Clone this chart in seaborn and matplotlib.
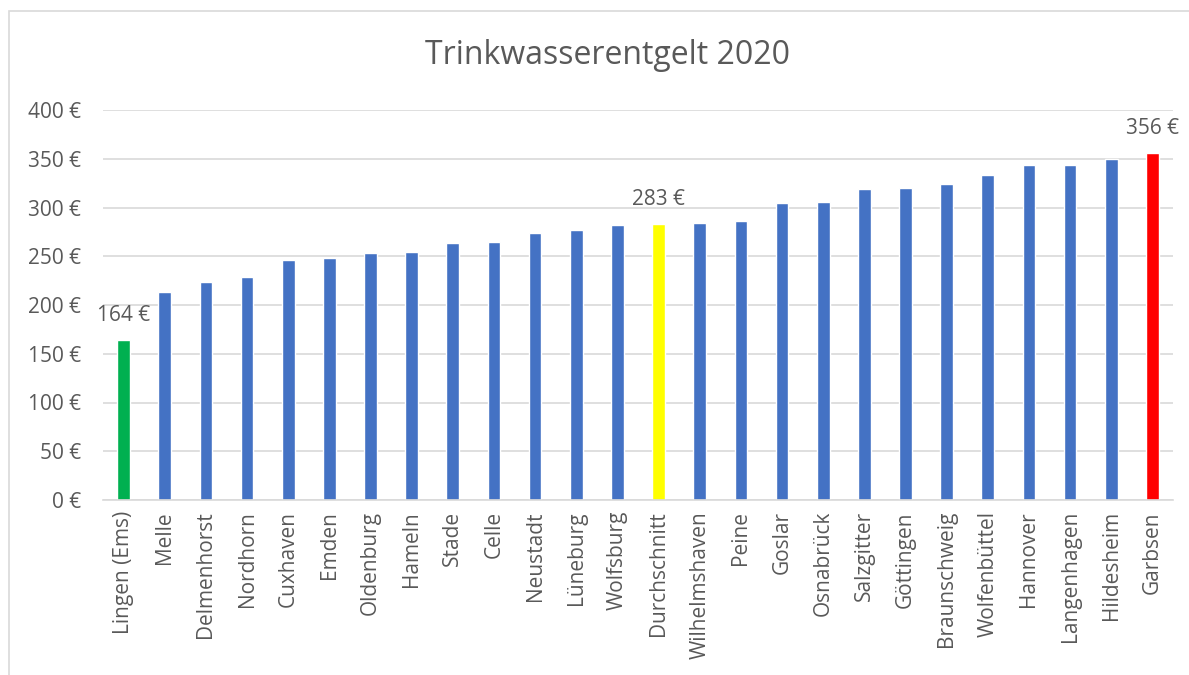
import matplotlib
matplotlib.use('Agg')
import matplotlib.pyplot as plt
import seaborn as sns
import pandas as pd
from matplotlib.patches import Rectangle

# values (€ per year)
cities = ['Lingen (Ems)', 'Melle', 'Delmenhorst', 'Nordhorn', 'Cuxhaven', 'Emden',
          'Oldenburg', 'Hameln', 'Stade', 'Celle', 'Neustadt', 'Lüneburg', 'Wolfsburg',
          'Durchschnitt', 'Wilhelmshaven', 'Peine', 'Goslar', 'Osnabrück', 'Salzgitter',
          'Göttingen', 'Braunschweig', 'Wolfenbüttel', 'Hannover', 'Langenhagen',
          'Hildesheim', 'Garbsen']
prices = [164, 213, 224, 229, 246, 248, 253, 254, 264, 265, 274, 277, 282,
          283, 284, 286, 305, 306, 319, 320, 324, 333, 344, 344, 350, 356]
labelled = ['Lingen (Ems)', 'Durchschnitt', 'Garbsen']

highlight = {'Lingen (Ems)': '#00B050', 'Durchschnitt': '#FFFF00', 'Garbsen': '#FF0000'}
colors = [highlight.get(c, '#4472C4') for c in cities]

df = pd.DataFrame({'city': cities, 'price': prices})

sns.set_style('white')
plt.rcParams['font.family'] = ['Open Sans', 'DejaVu Sans']
text_color = '#595959'

fig = plt.figure(figsize=(11.89, 6.75), dpi=100)
ax = fig.add_axes([103 / 1189, 1 - 500 / 675, (1173 - 103) / 1189, 390 / 675])

sns.barplot(data=df, x='city', y='price', hue='city', palette=colors,
            width=0.31, legend=False, ax=ax, saturation=1)

ax.set_ylim(0, 400)
ax.set_xlim(-0.5, len(cities) - 0.5)
ax.set_yticks(range(0, 401, 50))
ax.set_yticklabels([f'{v} €' for v in range(0, 401, 50)])
ax.yaxis.grid(True, color='#D9D9D9', lw=1.2)
ax.set_axisbelow(True)
for s in ['top', 'right', 'left']:
    ax.spines[s].set_visible(False)
ax.spines['bottom'].set_color('#D9D9D9')
ax.spines['bottom'].set_linewidth(1.2)
ax.tick_params(axis='both', length=0, colors=text_color, labelsize=15)
ax.tick_params(axis='y', pad=16)
ax.tick_params(axis='x', pad=8)
plt.setp(ax.get_xticklabels(), rotation=90)
ax.set_xlabel('')
ax.set_ylabel('')

for i, (c, p) in enumerate(zip(cities, prices)):
    if c in labelled:
        ax.annotate(f'{p} €', (i, p), xytext=(0, 10), textcoords='offset points',
                    ha='center', va='bottom', fontsize=15, color=text_color)

fig.text(0.511, 1 - 55 / 675, 'Trinkwasserentgelt 2020', ha='center', va='center',
         fontsize=23, color=text_color)

# light chart-area border (left and top edges visible in the reference)
fig.patches.append(Rectangle((9 / 1189, -0.1), 1.2, 1 - 11 / 675 + 0.1,
                             transform=fig.transFigure, fill=False,
                             edgecolor='#D9D9D9', lw=1.2))

fig.savefig('out.png', dpi=100)
